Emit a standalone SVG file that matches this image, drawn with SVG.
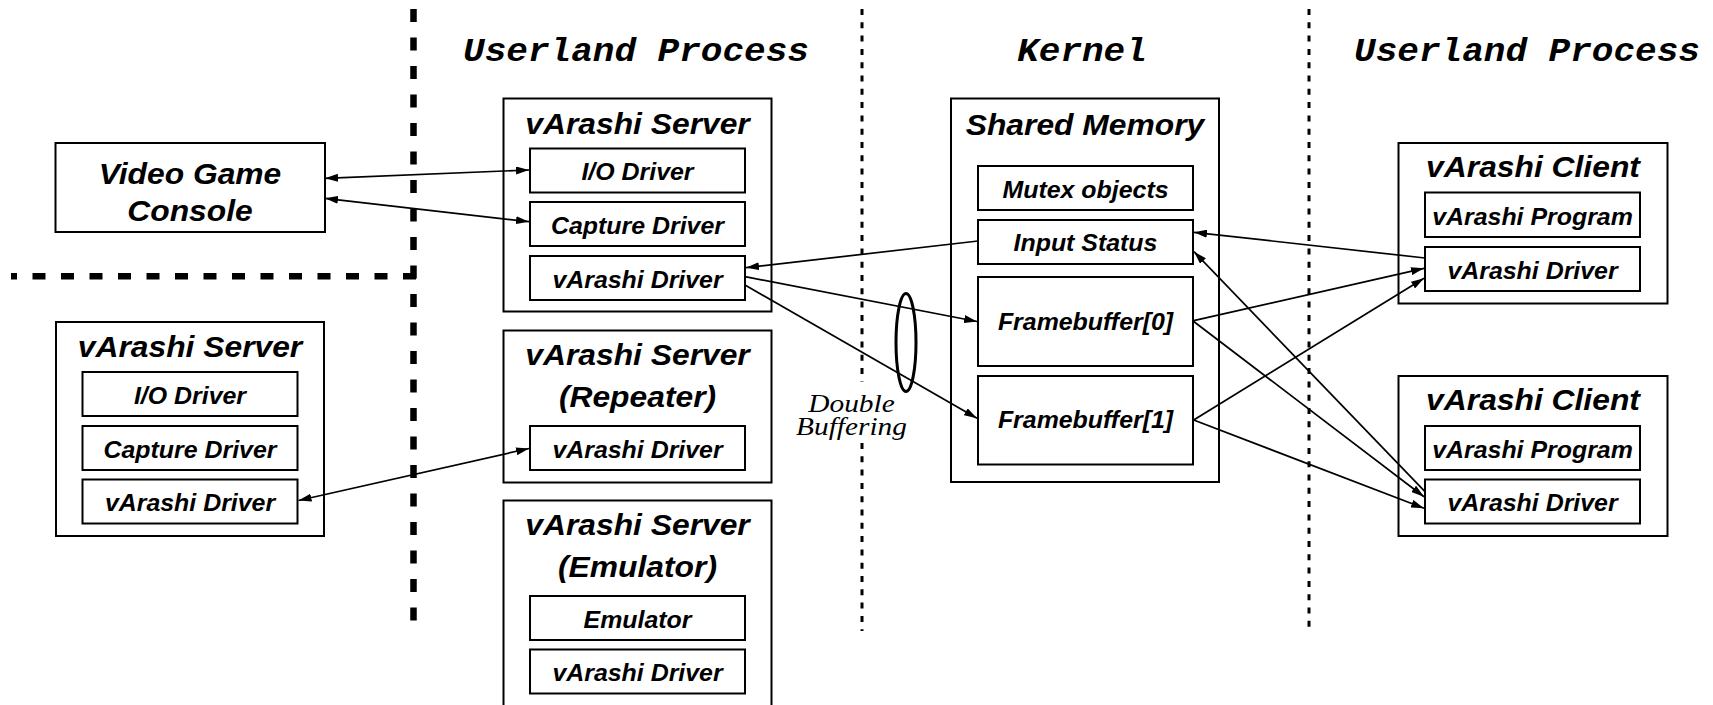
<svg xmlns="http://www.w3.org/2000/svg" width="1713" height="705" viewBox="0 0 1713 705">
  <style>
    .box { fill: #fff; stroke: #000; stroke-width: 2; }
    .t { font-family: "Liberation Sans", Arial, Helvetica, sans-serif; font-weight: bold; font-style: italic; text-anchor: middle; fill: #000; }
    .title { font-size: 30px; }
    .sub { font-size: 23.5px; }
    .hdr { font-family: "Liberation Mono", "Courier New", monospace; font-style: italic; font-weight: bold; font-size: 34px; text-anchor: middle; fill: #000; }
    .note { font-family: "Liberation Serif", "Times New Roman", serif; font-style: italic; font-size: 26px; text-anchor: middle; fill: #000; }
    .conn { stroke: #000; stroke-width: 1.7; fill: none; }
    .wall { stroke: #000; stroke-width: 6.5; fill: none; stroke-dasharray: 13 15.5; }
    .sep { stroke: #000; stroke-width: 3; fill: none; stroke-dasharray: 6 7.3; }
  </style>
  <defs>
    <marker id="arrow" viewBox="0 0 13 8" refX="13" refY="4" markerWidth="13" markerHeight="8" markerUnits="userSpaceOnUse" orient="auto-start-reverse">
      <path d="M0,0 L13,4 L0,8 z" fill="#000"/>
    </marker>
  </defs>
  <rect width="1713" height="705" fill="#fff"/>

  <!-- domain boundaries -->
  <g id="boundaries">
    <line class="wall" x1="413.5" y1="9" x2="413.5" y2="621"/>
    <line class="wall" x1="416" y1="276.3" x2="11" y2="276.3" stroke-width="6"/>
    <line class="sep" x1="862" y1="9" x2="862" y2="382"/>
    <line class="sep" x1="862" y1="443" x2="862" y2="631"/>
    <line class="sep" x1="1309" y1="9" x2="1309" y2="631"/>
  </g>

  <!-- column headers -->
  <g id="headers">
    <text class="hdr" transform="translate(636,61) scale(1.06,1)">Userland Process</text>
    <text class="hdr" transform="translate(1082,61) scale(1.06,1)">Kernel</text>
    <text class="hdr" transform="translate(1527,61) scale(1.06,1)">Userland Process</text>
  </g>

  <!-- video game console -->
  <g id="console">
    <rect class="box" x="55.5" y="143" width="269.5" height="89"/>
    <text class="t title" transform="translate(190,183.5) scale(1.06,1)">Video Game</text>
    <text class="t title" transform="translate(190,220.5) scale(1.06,1)">Console</text>
  </g>

  <!-- capture-side server -->
  <g id="server-main">
    <rect class="box" x="503.5" y="98.5" width="268" height="213"/>
    <text class="t title" transform="translate(637.5,133.5) scale(1.06,1)">vArashi Server</text>
    <rect class="box" x="530" y="148.5" width="215" height="44"/>
    <text class="t sub" transform="translate(637.5,180) scale(1.06,1)">I/O Driver</text>
    <rect class="box" x="530" y="202" width="215" height="44"/>
    <text class="t sub" transform="translate(637.5,233.5) scale(1.06,1)">Capture Driver</text>
    <rect class="box" x="530" y="256" width="215" height="44"/>
    <text class="t sub" transform="translate(637.5,287.5) scale(1.06,1)">vArashi Driver</text>
  </g>

  <!-- repeater server -->
  <g id="server-repeater">
    <rect class="box" x="503.5" y="330.5" width="268" height="152"/>
    <text class="t title" transform="translate(637.5,365) scale(1.06,1)">vArashi Server</text>
    <text class="t title" transform="translate(637.5,407) scale(1.06,1)">(Repeater)</text>
    <rect class="box" x="530" y="426" width="215" height="44"/>
    <text class="t sub" transform="translate(637.5,457.5) scale(1.06,1)">vArashi Driver</text>
  </g>

  <!-- emulator server -->
  <g id="server-emulator">
    <rect class="box" x="503.5" y="500.5" width="268" height="230"/>
    <text class="t title" transform="translate(637.5,535) scale(1.06,1)">vArashi Server</text>
    <text class="t title" transform="translate(637.5,577) scale(1.06,1)">(Emulator)</text>
    <rect class="box" x="530" y="596" width="215" height="44"/>
    <text class="t sub" transform="translate(637.5,627.5) scale(1.06,1)">Emulator</text>
    <rect class="box" x="530" y="649.5" width="215" height="44"/>
    <text class="t sub" transform="translate(637.5,681) scale(1.06,1)">vArashi Driver</text>
  </g>

  <!-- remote server -->
  <g id="server-remote">
    <rect class="box" x="56" y="322" width="268" height="214"/>
    <text class="t title" transform="translate(190,356.5) scale(1.06,1)">vArashi Server</text>
    <rect class="box" x="82.5" y="372" width="215" height="44"/>
    <text class="t sub" transform="translate(190,403.5) scale(1.06,1)">I/O Driver</text>
    <rect class="box" x="82.5" y="426" width="215" height="44"/>
    <text class="t sub" transform="translate(190,457.5) scale(1.06,1)">Capture Driver</text>
    <rect class="box" x="82.5" y="479.5" width="215" height="44"/>
    <text class="t sub" transform="translate(190,511) scale(1.06,1)">vArashi Driver</text>
  </g>

  <!-- shared memory -->
  <g id="shared-memory">
    <rect class="box" x="951" y="98.5" width="268" height="383.5"/>
    <text class="t title" transform="translate(1085,134.5) scale(1.06,1)">Shared Memory</text>
    <rect class="box" x="978" y="166" width="215" height="44"/>
    <text class="t sub" transform="translate(1085.5,197.5) scale(1.06,1)">Mutex objects</text>
    <rect class="box" x="978" y="220" width="215" height="44"/>
    <text class="t sub" transform="translate(1085.5,251) scale(1.06,1)">Input Status</text>
    <rect class="box" x="978" y="277" width="215" height="89"/>
    <text class="t sub" transform="translate(1085.5,330) scale(1.06,1)">Framebuffer[0]</text>
    <rect class="box" x="978" y="376" width="215" height="88.5"/>
    <text class="t sub" transform="translate(1085.5,427.5) scale(1.06,1)">Framebuffer[1]</text>
  </g>

  <!-- clients -->
  <g id="client-1">
    <rect class="box" x="1398.5" y="143" width="269" height="160.5"/>
    <text class="t title" transform="translate(1533,177) scale(1.06,1)">vArashi Client</text>
    <rect class="box" x="1425" y="192.5" width="215" height="44.5"/>
    <text class="t sub" transform="translate(1532.5,224.5) scale(1.06,1)">vArashi Program</text>
    <rect class="box" x="1425" y="247" width="215" height="44"/>
    <text class="t sub" transform="translate(1532.5,278.5) scale(1.06,1)">vArashi Driver</text>
  </g>
  <g id="client-2">
    <rect class="box" x="1398.5" y="376" width="269" height="160"/>
    <text class="t title" transform="translate(1533,410) scale(1.06,1)">vArashi Client</text>
    <rect class="box" x="1425" y="426" width="215" height="44"/>
    <text class="t sub" transform="translate(1532.5,457.5) scale(1.06,1)">vArashi Program</text>
    <rect class="box" x="1425" y="479.5" width="215" height="44"/>
    <text class="t sub" transform="translate(1532.5,511) scale(1.06,1)">vArashi Driver</text>
  </g>

  <!-- connectors -->
  <g id="connectors">
    <path class="conn" d="M325,178.3 L529,170" marker-start="url(#arrow)" marker-end="url(#arrow)"/>
    <path class="conn" d="M325,198.3 L529,221.7" marker-start="url(#arrow)" marker-end="url(#arrow)"/>
    <path class="conn" d="M298.5,500.5 L529,448.5" marker-start="url(#arrow)" marker-end="url(#arrow)"/>
    <path class="conn" d="M978,241 L746,267.7" marker-end="url(#arrow)"/>
    <path class="conn" d="M745,276.7 L977,321.5" marker-end="url(#arrow)"/>
    <path class="conn" d="M745,285 L977,418.3" marker-end="url(#arrow)"/>
    <path class="conn" d="M1425,258 L1194,232.3" marker-end="url(#arrow)"/>
    <path class="conn" d="M1425,491.7 L1194,251.7" marker-end="url(#arrow)"/>
    <path class="conn" d="M1193.7,320.7 L1424,268.3" marker-end="url(#arrow)"/>
    <path class="conn" d="M1193.7,420 L1424,278.3" marker-end="url(#arrow)"/>
    <path class="conn" d="M1193.7,321.5 L1424,496.7" marker-end="url(#arrow)"/>
    <path class="conn" d="M1193.7,420 L1424,508.3" marker-end="url(#arrow)"/>
  </g>

  <!-- double buffering annotation -->
  <g id="double-buffering">
    <ellipse cx="906" cy="342.5" rx="10" ry="49" fill="none" stroke="#000" stroke-width="3"/>
    <text class="note" transform="translate(851.5,411.5) scale(1.13,1)">Double</text>
    <text class="note" transform="translate(851.5,435) scale(1.13,1)">Buffering</text>
  </g>
</svg>
